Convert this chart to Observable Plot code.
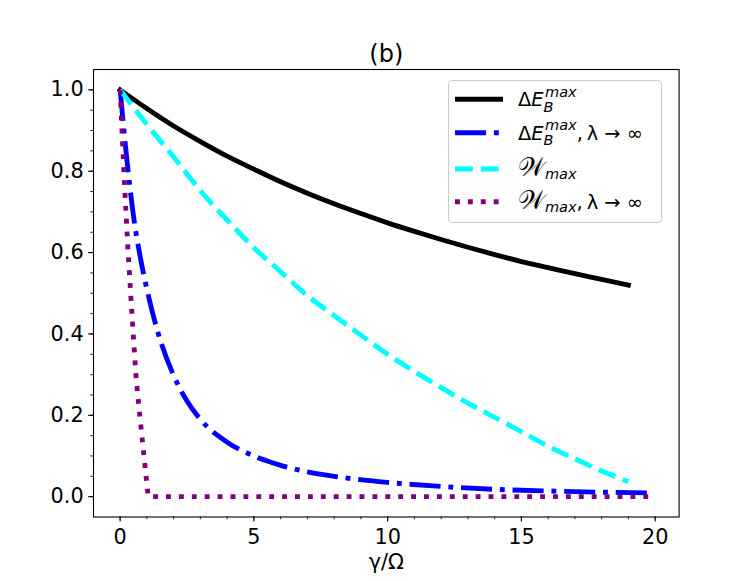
<!DOCTYPE html>
<html>
<head>
<meta charset="utf-8">
<script src="https://cdn.jsdelivr.net/npm/d3@7"></script>
<script src="https://cdn.jsdelivr.net/npm/@observablehq/plot@0.6"></script>
<style>
  html, body { margin: 0; padding: 0; background: white; }
  svg { display: block; }
</style>
</head>
<body>
<script>
// ---- data ----
const gammaA = [0,1,2,3,4,5,6,7,8,9,10,11,12,13,14,15,16,17,18,19];
const dEmax  = [1.000,0.954,0.911,0.873,0.837,0.805,0.774,0.746,0.720,0.696,0.673,0.652,0.632,0.613,0.595,0.578,0.563,0.548,0.534,0.520];
const Wmax   = [1.000,0.915,0.835,0.752,0.680,0.612,0.553,0.494,0.445,0.397,0.350,0.308,0.268,0.230,0.195,0.160,0.124,0.093,0.063,0.037];

const gammaB   = [0,0.25,0.5,0.75,1,1.5,2,2.5,3,4,5,6,7,8,10,12,14,16,18,19.9];
const dEmaxInf = [1.0,0.83,0.69,0.59,0.51,0.385,0.298,0.235,0.190,0.134,0.100,0.077,0.061,0.050,0.035,0.025,0.018,0.014,0.011,0.009];

const gammaC  = [0,0.15,0.3,0.45,0.6,0.75,0.9,1.05,19.9];
const WmaxInf = [1.0,0.785,0.60,0.44,0.29,0.19,0.095,0.0,0.0];

const xMajor = [0,5,10,15,20];
const xMinor = d3.range(0,21);
const yMajor = [0,0.2,0.4,0.6,0.8,1.0];
const yMinor = d3.range(0,21).map(i => i*0.05);

const seriesNames  = ["dEmax","dEmaxInf","Wmax","WmaxInf"];
const seriesColors = ["black","#0000ff","#00ffff","#800080"];
const seriesDash   = [null,"31.1 7.8 4.9 7.8","18 7.8","4.9 8"];

const tbl = (xs, ys) => xs.map((g,i) => ({g, v: ys[i]}));

const FONT = "DejaVu Sans";
const FS = 20.8;     // tick labels, axis label
const FT = 24;       // title
const FL = 19.4;     // legend
const LW = 4.86;

const chart = Plot.plot({
  width: 747, height: 581,
  marginLeft: 93, marginRight: 68.4, marginTop: 69, marginBottom: 64.5,
  style: {fontFamily: FONT, fontSize: FS + "px", background: "white", color: "black"},
  x: {domain: [-0.995, 20.895], label: null},
  y: {domain: [-0.05, 1.05], label: null},
  marks: [
    Plot.axisX(xMinor, {tickSize: 2.8, strokeWidth: 0.83, tickFormat: () => null, label: null}),
    Plot.axisY(yMinor, {tickSize: 2.8, strokeWidth: 0.83, tickFormat: () => null, label: null}),
    Plot.axisX(xMajor, {tickSize: 4.9, tickPadding: 7.1, strokeWidth: 1.1, tickFormat: d => String(d), label: null, fontSize: FS}),
    Plot.axisY(yMajor, {tickSize: 4.9, tickPadding: 4.9, strokeWidth: 1.1, tickFormat: d3.format(".1f"), label: null, fontSize: FS}),
    Plot.line(tbl(gammaA, dEmax), {x: "g", y: "v", stroke: seriesColors[0], strokeWidth: LW, strokeLinecap: "square", curve: "monotone-x"}),
    Plot.line(tbl(gammaB, dEmaxInf), {x: "g", y: "v", stroke: seriesColors[1], strokeWidth: LW, strokeDasharray: seriesDash[1], strokeLinecap: "butt", curve: "monotone-x"}),
    Plot.line(tbl(gammaA, Wmax), {x: "g", y: "v", stroke: seriesColors[2], strokeWidth: LW, strokeDasharray: seriesDash[2], strokeLinecap: "butt", curve: "monotone-x"}),
    Plot.line(tbl(gammaC, WmaxInf), {x: "g", y: "v", stroke: seriesColors[3], strokeWidth: LW, strokeDasharray: seriesDash[3], strokeLinecap: "butt", curve: "linear"}),
    Plot.frame({stroke: "black", strokeWidth: 1.1}),
    Plot.text(["(b)"], {frameAnchor: "top", lineAnchor: "bottom", dy: -8, fontSize: FT}),
    Plot.text(["γ/Ω"], {frameAnchor: "bottom", lineAnchor: "bottom", dy: 51.5, fontSize: FS})
  ]
});
document.body.appendChild(chart);

// ---- legend ----
const svg = d3.select(chart);
const lg = svg.append("g").attr("text-anchor", "start");
lg.append("rect")
  .attr("x", 448.5).attr("y", 80.5).attr("width", 213).attr("height", 142)
  .attr("rx", 4).attr("fill", "white").attr("fill-opacity", 0.8)
  .attr("stroke", "#cccccc").attr("stroke-width", 1.1);

const rowsY = [99.3, 132.7, 169, 201.7];
function put(x, y, t, opt = {}) {
  const el = lg.append("text")
    .attr("x", x).attr("y", y)
    .attr("text-anchor", "start")
    .attr("font-family", opt.family || FONT)
    .attr("font-size", opt.size || FL)
    .attr("font-style", opt.it ? "italic" : "normal")
    .attr("fill", "black")
    .text(t);
  return el.node().getComputedTextLength();
}
const SS = 14.5;
function rowE(y, tail) {
  let x = 518;
  x += put(x, y, "Δ");
  x += put(x, y, "E", {it: true});
  const w1 = put(x + 1.5, y - 9.3, "max", {it: true, size: SS});
  const w2 = put(x, y + 5.7, "B", {it: true, size: SS});
  x += Math.max(w1 + 1.5, w2);
  if (tail) put(x, y, tail);
}
function rowW(y, tail) {
  let x = 518;
  x += put(x, y, "𝒲", {size: 25.5});
  x += put(x, y + 3, "max", {it: true, size: SS});
  if (tail) put(x, y, tail);
}
const tail = ",\u2009λ → ∞";
seriesNames.forEach((name, i) => {
  const y = rowsY[i];
  const ln = lg.append("line")
    .attr("x1", 455).attr("x2", 503).attr("y1", y).attr("y2", y)
    .attr("stroke", seriesColors[i]).attr("stroke-width", LW)
    .attr("stroke-linecap", i === 0 ? "square" : "butt");
  if (seriesDash[i]) ln.attr("stroke-dasharray", seriesDash[i]);
  if (i === 0) { ln.attr("x1", 457.4).attr("x2", 500.6); }
  const by = y + 7;
  if (name === "dEmax") rowE(by, null);
  if (name === "dEmaxInf") rowE(by, tail);
  if (name === "Wmax") rowW(by, null);
  if (name === "WmaxInf") rowW(by, tail);
});
</script>
</body>
</html>
